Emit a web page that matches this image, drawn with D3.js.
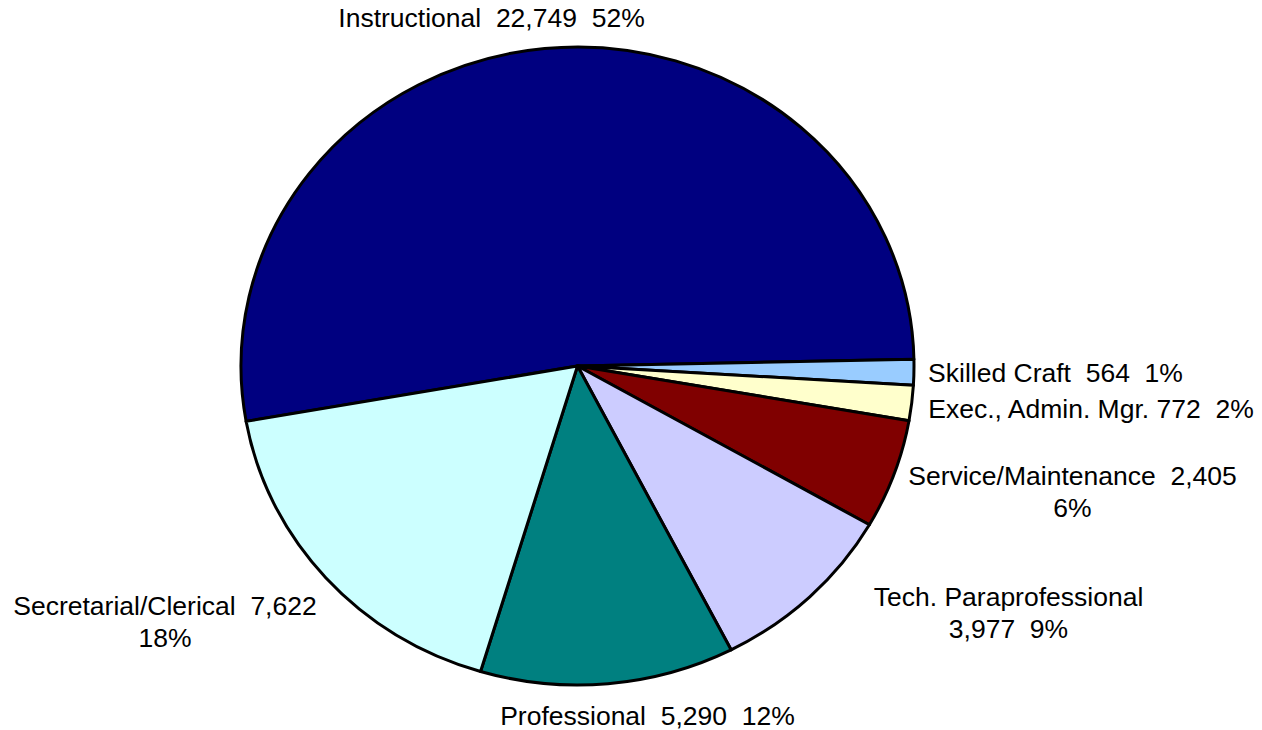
<!DOCTYPE html>
<html>
<head>
<meta charset="utf-8">
<script src="https://cdn.jsdelivr.net/npm/d3@7"></script>
<style>
  html, body { margin: 0; padding: 0; background: #ffffff; }
  svg { display: block; }
  text { font-family: "Liberation Sans", Arial, sans-serif; font-size: 26.5px; fill: #000; white-space: pre; }
</style>
</head>
<body>
<svg id="chart" width="1262" height="730"></svg>
<script>
// Data (clockwise order as drawn)
const categories = ["Instructional", "Skilled Craft", "Exec., Admin. Mgr.", "Service/Maintenance", "Tech. Paraprofessional", "Professional", "Secretarial/Clerical"];
const values = [22749, 564, 772, 2405, 3977, 5290, 7622];
const colors = ["#000080", "#99CCFF", "#FFFFCC", "#800000", "#CCCCFF", "#008080", "#CCFFFF"];
// separator between name and value, and where the label wraps
const nameSep = ["  ", "  ", " ", "  ", "\n", "  ", "  "];
const valueSep = ["  ", "  ", "  ", "\n", "  ", "  ", "\n"];

// Layout
const W = 1262, H = 730;
const cx = 577.5, cy = 366, rx = 336.5, ry = 319;
const startDeg = -100;
// label anchors (text centre x, first baseline y)
const labelPos = [[491.5, 27], [1055.5, 382], [1091, 418], [1072.5, 485], [1008.5, 606], [647.5, 725], [165, 615]];
const lineGap = 32;

const svg = d3.select("#chart");
const total = d3.sum(values);
const fmt = d3.format(",");

const pie = d3.pie().sort(null).value(d => d)
  .startAngle(startDeg * Math.PI / 180)
  .endAngle(startDeg * Math.PI / 180 + 2 * Math.PI);
const arc = d3.arc().innerRadius(0).outerRadius(rx);

const g = svg.append("g")
  .attr("transform", `translate(${cx},${cy}) scale(1,${ry / rx})`);

g.selectAll("path")
  .data(pie(values))
  .join("path")
  .attr("d", arc)
  .attr("fill", (d, i) => colors[i])
  .attr("stroke", "#000")
  .attr("stroke-width", 3)
  .attr("stroke-linejoin", "round")
  .attr("vector-effect", "non-scaling-stroke");

const labels = svg.append("g");
categories.forEach((name, i) => {
  const pct = Math.round(values[i] / total * 100) + "%";
  const full = name + nameSep[i] + fmt(values[i]) + valueSep[i] + pct;
  const lines = full.split("\n");
  const t = labels.append("text")
    .attr("x", labelPos[i][0])
    .attr("y", labelPos[i][1])
    .attr("text-anchor", "middle");
  lines.forEach((ln, j) => {
    t.append("tspan")
      .attr("x", labelPos[i][0])
      .attr("y", labelPos[i][1] + j * lineGap)
      .text(ln);
  });
});
</script>
</body>
</html>
